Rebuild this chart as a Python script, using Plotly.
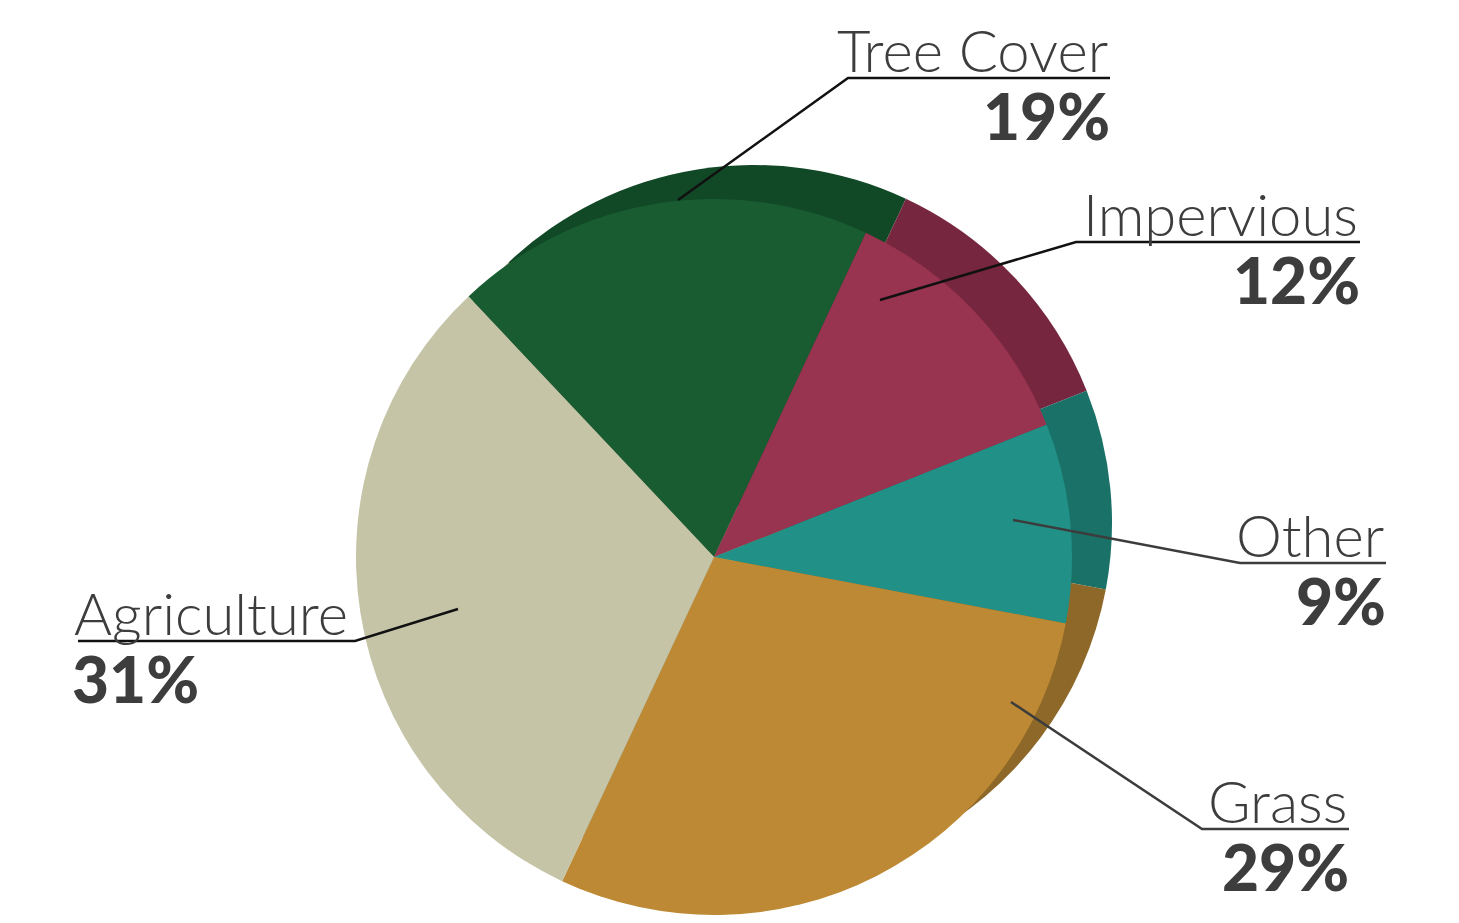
import plotly.graph_objects as go

# ---- data ----
categories = ["Tree Cover", "Impervious", "Other", "Grass", "Agriculture"]
shares = [19, 12, 9, 29, 31]
pct_labels = ["19%", "12%", "9%", "29%", "31%"]
front_colors = ["#195c32", "#983350", "#219187", "#bd8934", "#c5c4a6"]
shadow_colors = ["#114826", "#76273f", "#1a7168", "#8e6828", "#9a9980"]

# ---- layout constants (pixels of the 1459x923 canvas) ----
W, H = 1459, 923
FRONT_C, SHADOW_C, R = (714, 557), (754, 523), 358
ROTATION = -43.3

# label layout: anchor point, elbow, underline end, text side
label_layout = {
    "Tree Cover":  dict(anchor=(678, 200), elbow=(848, 78), end=(1110, 78), side="right", line="#111111"),
    "Impervious":  dict(anchor=(880, 300), elbow=(1076, 242), end=(1360, 242), side="right", line="#111111"),
    "Other":       dict(anchor=(1013, 520), elbow=(1240, 563), end=(1386, 563), side="right", line="#3c3c3c"),
    "Grass":       dict(anchor=(1011, 702), elbow=(1202, 829), end=(1349, 829), side="right", line="#3c3c3c"),
    "Agriculture": dict(anchor=(458, 609), elbow=(355, 641), end=(78, 641), side="left", line="#111111"),
}


def px(x):
    return x / W


def py(y):
    return 1 - y / H


def domain(center):
    cx, cy = center
    return dict(x=[px(cx - R), px(cx + R)], y=[py(cy + R), py(cy - R)])


fig = go.Figure()
for colors, center in ((shadow_colors, SHADOW_C), (front_colors, FRONT_C)):
    fig.add_trace(go.Pie(
        labels=categories, values=shares, sort=False, direction="clockwise",
        rotation=ROTATION, textinfo="none", hoverinfo="skip",
        marker=dict(colors=colors, line=dict(width=0)),
        domain=domain(center), showlegend=False,
    ))

shapes, annotations = [], []
TEXT_COLOR = "#3d3d3d"
for name, pct in zip(categories, pct_labels):
    L = label_layout[name]
    (ax_, ay_), (ex, ey), (tx, ty) = L["anchor"], L["elbow"], L["end"]
    path = f"M {px(ax_)} {py(ay_)} L {px(ex)} {py(ey)} L {px(tx)} {py(ty)}"
    shapes.append(dict(type="path", path=path, xref="paper", yref="paper",
                       line=dict(color=L["line"], width=2.5), layer="above"))
    xa = "right" if L["side"] == "right" else "left"
    annotations.append(dict(
        text=name, x=px(tx + (0 if xa == "right" else -6)), y=py(ty + 8), xref="paper", yref="paper",
        xanchor=xa, yanchor="bottom", showarrow=False,
        font=dict(family="Lato", size=58, weight=300, color=TEXT_COLOR)))
    annotations.append(dict(
        text=pct, x=px(tx + (2 if xa == "right" else -8)), y=py(ty - 3), xref="paper", yref="paper",
        xanchor=xa, yanchor="top", showarrow=False,
        font=dict(family="Lato", size=64, weight=900, color=TEXT_COLOR)))

fig.update_layout(
    width=W, height=H, margin=dict(l=0, r=0, t=0, b=0),
    paper_bgcolor="white", plot_bgcolor="white",
    shapes=shapes, annotations=annotations,
)

fig.write_html("out.html", config={"displayModeBar": False},
               post_script="document.body.style.margin='0';document.body.style.overflow='hidden';")
